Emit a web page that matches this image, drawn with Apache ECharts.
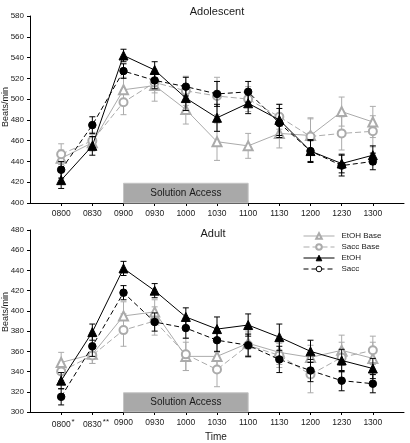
<!DOCTYPE html>
<html><head><meta charset="utf-8">
<script src="https://cdn.jsdelivr.net/npm/echarts@6/dist/echarts.min.js"></script>
<style>html,body{margin:0;padding:0;background:#fff}#c{width:410px;height:443px}</style>
</head><body><div id="c"></div>
<script>
const times = ['0800','0830','0900','0930','1000','1030','1100','1130','1200','1230','1300'];
const adultMarks = ['*','**','','','','','','','','',''];
const seriesNames = ['EtOH Base','Sacc Base','EtOH','Sacc'];
const accessWindow = ['0900','1100'];

// Adolescent
const adoEtohBase    = [443, 458, 509, 513, 490, 459, 455, 467, 465, 488, 478];
const adoEtohBaseErr = [8, 8, 12, 15, 14, 18, 12, 14, 17, 14, 15];
const adoSaccBase    = [447, 460, 497, 516, 508, 503, 500, 483, 464, 467, 469];
const adoSaccBaseErr = [10, 8, 12, 10, 14, 18, 12, 12, 17, 16, 15];
const adoEtoh        = [422, 455, 542, 528, 501, 482, 496, 480, 450, 438, 446];
const adoEtohErr     = [8, 9, 6, 8, 12, 13, 10, 15, 10, 9, 9];
const adoSacc        = [432, 475, 527, 518, 512, 505, 507, 477, 450, 436, 440];
const adoSaccErr     = [8, 8, 7, 8, 9, 12, 10, 14, 11, 10, 8];

// Adult
const adEtohBase    = [349, 357, 395, 399, 355, 355, 368, 359, 354, 361, 353];
const adEtohBaseErr = [10, 9, 14, 12, 14, 14, 12, 12, 12, 15, 16];
const adSaccBase    = [340, 356, 381, 390, 357, 342, 366, 356, 337, 354, 361];
const adSaccBaseErr = [9, 8, 16, 14, 16, 17, 12, 12, 18, 15, 14];
const adEtoh        = [331, 379, 442, 420, 394, 382, 386, 374, 360, 351, 343];
const adEtohErr     = [8, 8, 7, 7, 9, 12, 11, 13, 11, 11, 10];
const adSacc        = [315, 365, 418, 389, 383, 371, 366, 352, 341, 331, 328];
const adSaccErr     = [8, 10, 7, 9, 10, 11, 11, 13, 11, 10, 9];

const GRAY = '#ababab';
const BLACK = '#000';
const FONT = 'Liberation Sans, Arial, sans-serif';

const styles = [
  {name:'EtOH Base', color: GRAY, symbol:'emptyTriangle', size:9, type:'solid', z:2},
  {name:'Sacc Base', color: GRAY, symbol:'emptyCircle', size:8, type:[6,3], z:2},
  {name:'EtOH', color: BLACK, symbol:'triangle', size:9, type:'solid', z:4},
  {name:'Sacc', color: BLACK, symbol:'circle', size:7.5, type:[5,3], z:4}
];

function makeErr(color){
  return function(params, api){
    const x = api.value(0), lo = api.value(1), hi = api.value(2);
    const a = api.coord([x, hi]), b = api.coord([x, lo]);
    const w = 3;
    const st = {stroke: color, lineWidth: 1, fill: null};
    return {type:'group', children:[
      {type:'line', shape:{x1:a[0], y1:a[1], x2:b[0], y2:b[1]}, style:st},
      {type:'line', shape:{x1:a[0]-w, y1:a[1], x2:a[0]+w, y2:a[1]}, style:st},
      {type:'line', shape:{x1:b[0]-w, y1:b[1], x2:b[0]+w, y2:b[1]}, style:st}
    ]};
  };
}

const series = [];
function addPanel(idx, means, errs, boxTop, boxBottom){
  series.push({
    type:'line', xAxisIndex: idx, yAxisIndex: idx, data: [], silent:true, z:1,
    markArea: {
      silent: true,
      itemStyle: {color:'#a9a9a9', borderColor:'#c4c4c4', borderWidth:1},
      label: {show:true, position:'inside', color:'#1a1a1a', fontSize:10, fontFamily:FONT},
      data: [[
        {name:'Solution Access', xAxis: times.indexOf(accessWindow[0]), yAxis: boxBottom},
        {xAxis: times.indexOf(accessWindow[1]), yAxis: boxTop}
      ]]
    }
  });
  styles.forEach((s, k) => {
    series.push({
      type:'custom', name: s.name + ' err' + idx, xAxisIndex: idx, yAxisIndex: idx, z: s.z - 1,
      renderItem: makeErr(s.color), silent:true,
      encode: {x:0, y:[1,2]},
      data: means[k].map((v,i) => [i, v - errs[k][i], v + errs[k][i]])
    });
    series.push({
      type:'line', name: s.name, xAxisIndex: idx, yAxisIndex: idx, z: s.z,
      symbol: s.symbol, symbolSize: s.size,
      lineStyle: {color: s.color, width: 1, type: s.type},
      itemStyle: {color: s.color, borderColor: s.color, borderWidth: 1},
      data: means[k].map((v,i) => [i, v]),
      animation:false
    });
  });
}
addPanel(0, [adoEtohBase, adoSaccBase, adoEtoh, adoSacc], [adoEtohBaseErr, adoSaccBaseErr, adoEtohErr, adoSaccErr], 419, 400);
addPanel(1, [adEtohBase, adSaccBase, adEtoh, adSacc], [adEtohBaseErr, adSaccBaseErr, adEtohErr, adSaccErr], 319, 300);

const tickIdx = times.map((t,i) => i);
function xAxis(idx, adult){
  return {
    type:'value', gridIndex: idx, min:-1, max: times.length, interval:1,
    axisLine: {show:true, onZero:false, lineStyle:{color:'#000', width:1}},
    axisTick: {show:true, length:3, inside:false, customValues: tickIdx, lineStyle:{color:'#000'}},
    axisLabel: {
      show:true, margin:6, fontSize:8.5, color:'#1a1a1a', fontFamily:FONT, customValues: tickIdx,
      formatter: v => {
        const t = times[v];
        if (t === undefined) return '';
        if (adult && adultMarks[v]) return '{p|' + adultMarks[v] + '}{n|' + t + '}{s|' + adultMarks[v] + '}';
        return t;
      },
      rich: {
        n: {fontSize: 8.5, fontFamily: FONT, color:'#1a1a1a', lineHeight: 13},
        s: {fontSize: 8, fontFamily: FONT, color:'#1a1a1a', lineHeight: 8, verticalAlign:'top', padding:[0,0,0,1]},
        p: {fontSize: 8, fontFamily: FONT, color:'rgba(0,0,0,0)', lineHeight: 8, verticalAlign:'top', padding:[0,1,0,0]}
      }
    },
    splitLine: {show:false}
  };
}
function yAxis(idx, min, max){
  return {
    type:'value', gridIndex: idx, min, max, interval:20,
    axisLine: {show:true, onZero:false, lineStyle:{color:'#000', width:1}},
    axisTick: {show:true, length:3, inside:false, lineStyle:{color:'#000'}},
    axisLabel: {margin:6, fontSize:8, color:'#1a1a1a', fontFamily:FONT},
    splitLine: {show:false}
  };
}

const chart = echarts.init(document.getElementById('c'), null, {renderer:'canvas'});
chart.setOption({
  animation:false,
  backgroundColor:'#fff',
  grid: [
    {left:30, width:374, top:16, height:187},
    {left:30, width:374, top:230, height:182}
  ],
  xAxis: [xAxis(0,false), xAxis(1,true)],
  yAxis: [yAxis(0,400,580), yAxis(1,300,480)],
  legend: {
    show:true, orient:'vertical', left:298, top:227,
    itemWidth:31, itemHeight:7, itemGap:3,
    lineStyle: {width:1},
    itemStyle: {borderWidth:1},
    textStyle: {fontSize:8, color:'#1a1a1a', fontFamily:FONT, padding:[0,0,0,2]},
    data: seriesNames.map(n => n === 'Sacc'
      ? {name:n, itemStyle:{color:'#fff', borderColor:'#000', borderWidth:1}}
      : {name:n})
  },
  graphic: [
    {type:'text', x:217, y:17, style:{text:'Adolescent', fontSize:11, fontFamily:FONT, fill:'#1a1a1a', textAlign:'center', textVerticalAlign:'bottom'}},
    {type:'text', x:213, y:234, style:{text:'Adult', fontSize:11, fontFamily:FONT, fill:'#1a1a1a', textAlign:'center', textVerticalAlign:'middle'}},
    {type:'text', x:6, y:107, rotation:Math.PI/2, style:{text:'Beats/min', fontSize:9, fontFamily:FONT, fill:'#1a1a1a', textAlign:'center', textVerticalAlign:'middle'}},
    {type:'text', x:6, y:312, rotation:Math.PI/2, style:{text:'Beats/min', fontSize:9, fontFamily:FONT, fill:'#1a1a1a', textAlign:'center', textVerticalAlign:'middle'}},
    {type:'text', x:216, y:437, style:{text:'Time', fontSize:10, fontFamily:FONT, fill:'#1a1a1a', textAlign:'center', textVerticalAlign:'middle'}}
  ],
  series
});
</script></body></html>
